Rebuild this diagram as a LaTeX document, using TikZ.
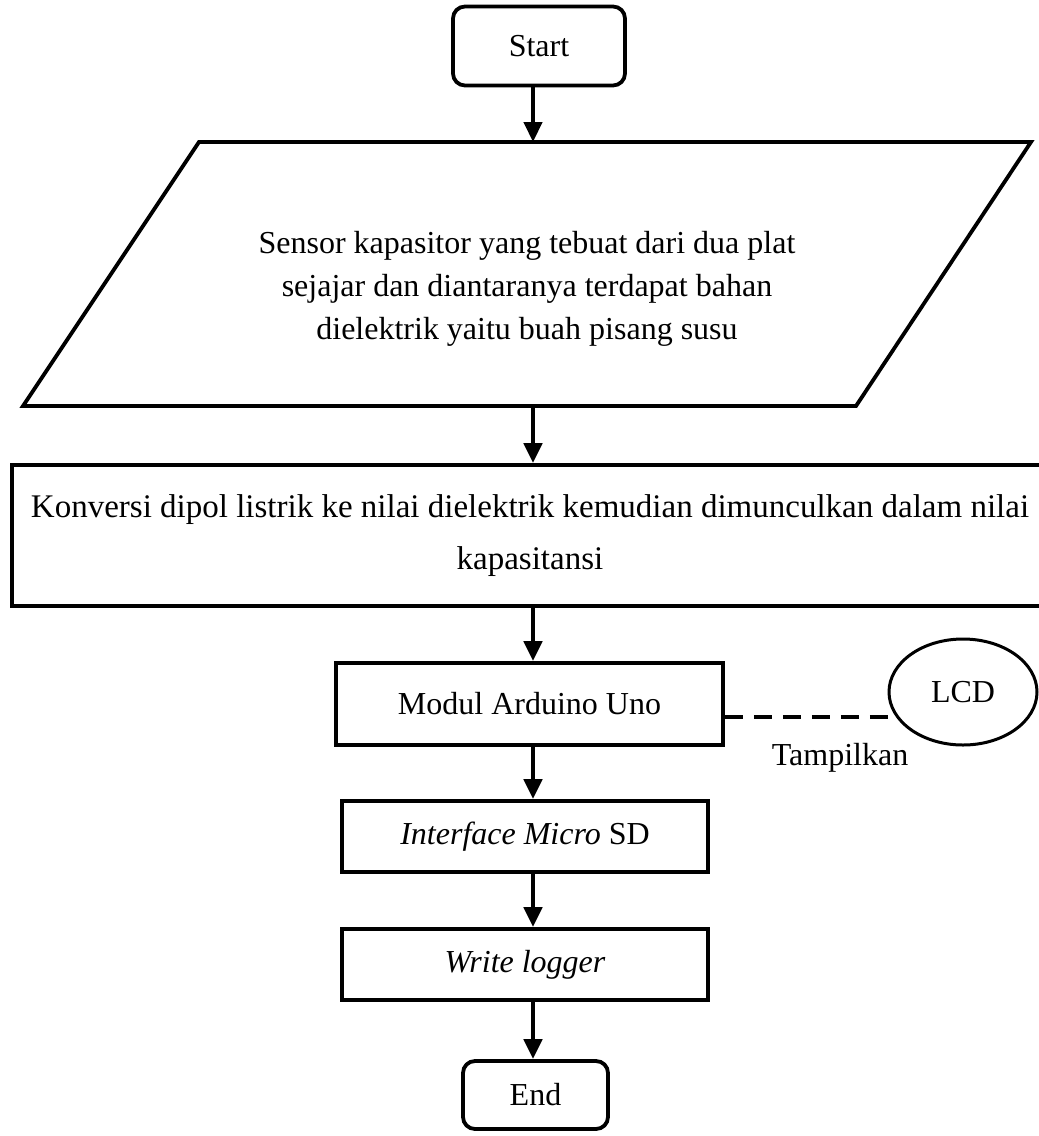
\documentclass[tikz,border=0pt]{standalone}
\usepackage{fontspec}
\setmainfont{Liberation Serif}
\usetikzlibrary{arrows.meta,shapes.geometric}
\tikzset{
  flow/.style={
    -{Triangle[length=20pt,width=18pt]},
    draw=black,
    line width=4.5pt
  },
  link/.style={
    draw=black,
    line width=4pt,
    dash pattern=on 18pt off 11pt
  },
  block/.style={
    rectangle,
    draw=black,
    line width=3.8pt,
    fill=white,
    align=center,
    inner sep=0pt,
    font=\fontsize{32}{42}\selectfont
  },
  terminal/.style={
    block,
    rounded corners=12pt
  },
  outline/.style={
    draw=black,
    line width=3.8pt,
    fill=white
  },
  display/.style={
    ellipse,
    draw=black,
    line width=3pt,
    inner sep=0pt,
    font=\fontsize{32}{42}\selectfont
  },
  labeltext/.style={
    font=\fontsize{32}{43}\selectfont
  }
}

\begin{document}
\begin{tikzpicture}[x=1pt,y=-1pt]
  \useasboundingbox (0,0) rectangle (1039,1136);

  % ============================================================
  % Main column (all arrows run down x = 533)
  % ============================================================
  \coordinate (spine) at (533,0);

  \node[terminal, minimum width=172pt, minimum height=79pt]
       (start) at (539,46) {Start};

  % Input parallelogram
  \coordinate (sensor-nw) at (199,142);
  \coordinate (sensor-ne) at (1031,142);
  \coordinate (sensor-se) at (856,406);
  \coordinate (sensor-sw) at (23,406);
  \draw[outline] (sensor-sw) -- (sensor-nw) -- (sensor-ne) -- (sensor-se) -- cycle;
  \node[labeltext, align=center] (sensor) at (527,289)
       {Sensor kapasitor yang tebuat dari dua plat\\
        sejajar dan diantaranya terdapat bahan\\
        dielektrik yaitu buah pisang susu};

  \node[block, minimum width=1036pt, minimum height=141pt,
        font=\fontsize{33}{52}\selectfont]
       (konversi) at (530,535.5)
       {Konversi dipol listrik ke nilai dielektrik kemudian dimunculkan dalam nilai\\
        kapasitansi};

  \node[block, minimum width=387pt, minimum height=82pt]
       (arduino) at (529.5,704) {Modul Arduino Uno};

  \node[block, minimum width=366pt, minimum height=71pt]
       (interface) at (525,836.5) {\textit{Interface Micro} SD};

  \node[block, minimum width=366pt, minimum height=71pt]
       (logger) at (525,964.5) {\textit{Write logger}};

  \node[terminal, minimum width=145pt, minimum height=68pt]
       (stop) at (535.5,1095) {End};

  % ============================================================
  % Side output
  % ============================================================
  \node[display, minimum width=148pt, minimum height=106pt]
       (lcd) at (963,692) {LCD};
  \node[labeltext] (tampil) at (840,758) {Tampilkan};

  % Connectors
  \draw[flow] (start.south -| spine) -- (sensor-nw -| spine);
  \draw[flow] (sensor-sw -| spine) -- (konversi.north -| spine);
  \draw[flow] (konversi.south -| spine) -- (arduino.north -| spine);
  \draw[flow] (arduino.south -| spine) -- (interface.north -| spine);
  \draw[flow] (interface.south -| spine) -- (logger.north -| spine);
  \draw[flow] (logger.south -| spine) -- (stop.north -| spine);
  \draw[link] (arduino.east |- lcd.200) -- (lcd.200);

\end{tikzpicture}
\end{document}
